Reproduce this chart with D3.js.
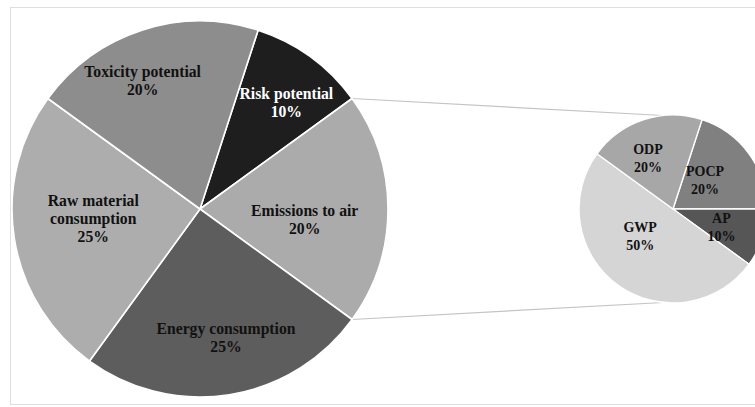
<!DOCTYPE html>
<html>
<head>
<meta charset="utf-8">
<script src="https://cdn.jsdelivr.net/npm/d3@7"></script>
<style>
  html, body { margin: 0; padding: 0; background: #ffffff; }
  svg { display: block; }
  text { font-family: "Liberation Serif", "Times New Roman", serif; font-weight: bold; }
</style>
</head>
<body>
<svg id="chart" width="755" height="407"></svg>
<script>
// Main pie: environmental impact categories (clockwise order)
const mainLabels = ["Risk potential", "Emissions to air", "Energy consumption", "Raw material consumption", "Toxicity potential"];
const mainValues = [10, 20, 25, 25, 20];
const mainColors = ["#1e1e1e", "#ababab", "#5d5d5d", "#adadad", "#8d8d8d"];
const mainTextColors = ["#ffffff", "#111111", "#111111", "#111111", "#111111"];
const mainLines = [["Risk potential"], ["Emissions to air"], ["Energy consumption"], ["Raw material", "consumption"], ["Toxicity potential"]];

// Breakdown of "Emissions to air" (clockwise order)
const subLabels = ["POCP", "AP", "GWP", "ODP"];
const subValues = [20, 10, 50, 20];
const subColors = ["#808080", "#565656", "#d5d5d5", "#a7a7a7"];

// index of the main slice that is broken out
const brokenIndex = 1;

// label placement: [radius fraction, angle offset in degrees]
const mainLabelPos = [[0.73, 3], [0.56, 6], [0.70, -2.4], [0.57, 4], [0.75, -6]];
const subLabelPos = [[0.456, -5.7], [0.55, 2.5], [0.45, 14.8], [0.60, -8.4]];

const svg = d3.select("#chart");
const deg = Math.PI / 180;

// thin frame
svg.append("rect")
  .attr("x", 10.5).attr("y", 7.5)
  .attr("width", 770).attr("height", 397)
  .attr("fill", "none").attr("stroke", "#dedede").attr("stroke-width", 1);

const c1 = { x: 200, y: 209, r: 188 };
const c2 = { x: 673, y: 209, r: 94 };

const mainPie = d3.pie().sort(null).value(d => d).startAngle(18 * deg).endAngle(378 * deg);
const subPie = d3.pie().sort(null).value(d => d).startAngle(18 * deg).endAngle(378 * deg);

const mainArcs = mainPie(mainValues);
const subArcs = subPie(subValues);

const polar = (c, r, a) => [c.x + r * Math.sin(a), c.y - r * Math.cos(a)];

// connector lines from the broken slice to the secondary pie
const b = mainArcs[brokenIndex];
const p1 = polar(c1, c1.r, b.startAngle);
const p2 = polar(c1, c1.r, b.endAngle);
const q1 = polar(c2, c2.r, -6 * deg);
const q2 = polar(c2, c2.r, 186 * deg);
svg.append("g").selectAll("line")
  .data([[p1, q1], [p2, q2]])
  .join("line")
  .attr("x1", d => d[0][0]).attr("y1", d => d[0][1])
  .attr("x2", d => d[1][0]).attr("y2", d => d[1][1])
  .attr("stroke", "#c4c4c4").attr("stroke-width", 1.2);

function drawPie(center, arcs, colors, strokeW) {
  const arc = d3.arc().innerRadius(0).outerRadius(center.r);
  const g = svg.append("g").attr("transform", `translate(${center.x},${center.y})`);
  g.selectAll("path")
    .data(arcs)
    .join("path")
    .attr("d", arc)
    .attr("fill", (d, i) => colors[i])
    .attr("stroke", "#ffffff")
    .attr("stroke-width", strokeW)
    .attr("stroke-linejoin", "round");
}

drawPie(c1, mainArcs, mainColors, 1.6);
drawPie(c2, subArcs, subColors, 1.4);

function drawLabels(center, arcs, pos, linesFor, fills, fontSize, lineH) {
  const g = svg.append("g");
  arcs.forEach((d, i) => {
    const mid = (d.startAngle + d.endAngle) / 2 + pos[i][1] * deg;
    const [x, y] = polar(center, center.r * pos[i][0], mid);
    const lines = linesFor(i);
    const n = lines.length;
    const t = g.append("text")
      .attr("text-anchor", "middle")
      .attr("font-size", fontSize)
      .attr("fill", fills[i]);
    lines.forEach((ln, k) => {
      t.append("tspan")
        .attr("x", x)
        .attr("y", y + (k - (n - 1) / 2) * lineH + fontSize * 0.35)
        .text(ln);
    });
  });
}

drawLabels(c1, mainArcs, mainLabelPos,
  i => mainLines[i].concat([mainValues[i] + "%"]),
  mainTextColors, 15.7, 18);

drawLabels(c2, subArcs, subLabelPos,
  i => [subLabels[i], subValues[i] + "%"],
  subColors.map(() => "#111111"), 14, 18);
</script>
</body>
</html>
